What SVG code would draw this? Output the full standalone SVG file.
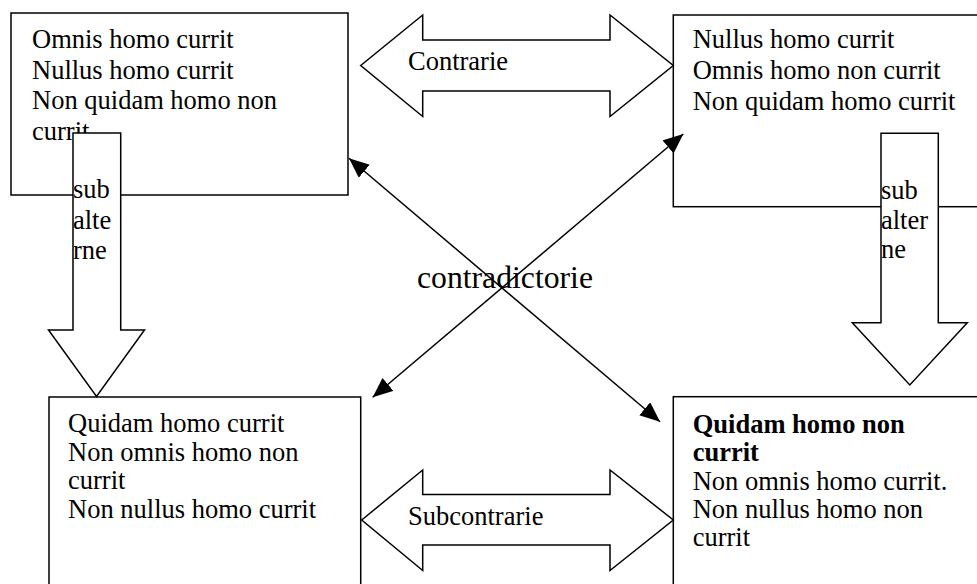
<svg xmlns="http://www.w3.org/2000/svg" width="977" height="584" viewBox="0 0 977 584">
  <style>
    .box { fill: #fff; stroke: #000; stroke-width: 1.5; }
    .block { fill: #fff; stroke: #000; stroke-width: 1.5; stroke-linejoin: miter; }
    .txt { font-family: "Liberation Serif", "Times New Roman", serif; font-size: 26.5px; fill: #000; }
    .bold { font-weight: bold; }
    .big { font-size: 31.7px; }
    .link { stroke: #000; stroke-width: 1.5; fill: none; marker-start: url(#tip); marker-end: url(#tip); }
  </style>
  <defs>
    <marker id="tip" markerUnits="userSpaceOnUse" markerWidth="22" markerHeight="18" refX="20" refY="8.5" orient="auto-start-reverse">
      <path d="M0,0 L20,8.5 L0,17 z" fill="#000"/>
    </marker>
  </defs>
  <rect width="977" height="584" fill="#fff"/>

  <!-- top-left: universal affirmative -->
  <g id="node-a">
    <rect class="box" x="11" y="13" width="337" height="182"/>
    <text class="txt" x="32" y="48">Omnis homo currit</text>
    <text class="txt" x="32" y="78.5">Nullus homo currit</text>
    <text class="txt" x="32" y="109">Non quidam homo non</text>
    <text class="txt" x="32" y="139.5">currit</text>
  </g>

  <!-- top-right: universal negative -->
  <g id="node-e">
    <rect class="box" x="673.3" y="15" width="320" height="191.7"/>
    <text class="txt" x="692.7" y="48.3">Nullus homo currit</text>
    <text class="txt" x="692.7" y="79">Omnis homo non currit</text>
    <text class="txt" x="692.7" y="110">Non quidam homo currit</text>
  </g>

  <!-- bottom-left: particular affirmative -->
  <g id="node-i">
    <rect class="box" x="49" y="397" width="311.7" height="200"/>
    <text class="txt" x="68" y="432">Quidam homo currit</text>
    <text class="txt" x="68" y="460.5">Non omnis homo non</text>
    <text class="txt" x="68" y="489">currit</text>
    <text class="txt" x="68" y="517.5">Non nullus homo currit</text>
  </g>

  <!-- bottom-right: particular negative -->
  <g id="node-o">
    <rect class="box" x="673.3" y="396.7" width="320" height="200"/>
    <text class="txt bold" x="692.7" y="433">Quidam homo non</text>
    <text class="txt bold" x="692.7" y="461">currit</text>
    <text class="txt" x="692.7" y="489.5">Non omnis homo currit.</text>
    <text class="txt" x="692.7" y="517.5">Non nullus homo non</text>
    <text class="txt" x="692.7" y="545.5">currit</text>
  </g>

  <g id="connectors">
    <!-- contraries -->
    <g id="contrarie">
      <polygon class="block" points="360.7,65.5 422.7,15 422.7,40 610,40 610,15 673.3,65.5 610,116.5 610,91 422.7,91 422.7,116.5"/>
      <text class="txt" x="408" y="70">Contrarie</text>
    </g>
    <!-- subcontraries -->
    <g id="subcontrarie">
      <polygon class="block" points="361.7,520 422.7,470 422.7,494.5 610,494.5 610,470 673.3,520 610,570.5 610,545 422.7,545 422.7,570.5"/>
      <text class="txt" x="408" y="525">Subcontrarie</text>
    </g>
    <!-- subalterns -->
    <g id="subalterne-left">
      <polygon class="block" points="73,133 120.7,133 120.7,330 144.5,330 96.5,396.5 48.5,330 73,330"/>
      <text class="txt" x="73" y="198.3">sub</text>
      <text class="txt" x="73" y="229">alte</text>
      <text class="txt" x="73" y="259">rne</text>
    </g>
    <g id="subalterne-right">
      <polygon class="block" points="881,133.3 938.3,133.3 938.3,322.7 967.3,322.7 909.8,385 852.3,322.7 881,322.7"/>
      <text class="txt" x="881" y="199">sub</text>
      <text class="txt" x="881" y="228.5">alter</text>
      <text class="txt" x="881" y="258">ne</text>
    </g>
    <!-- contradictories -->
    <g id="contradictorie">
      <text class="txt big" x="417" y="288">contradictorie</text>
      <line class="link" x1="349" y1="158.3" x2="660" y2="421.7"/>
      <line class="link" x1="683.3" y1="134" x2="372.7" y2="397.3"/>
    </g>
  </g>
</svg>
